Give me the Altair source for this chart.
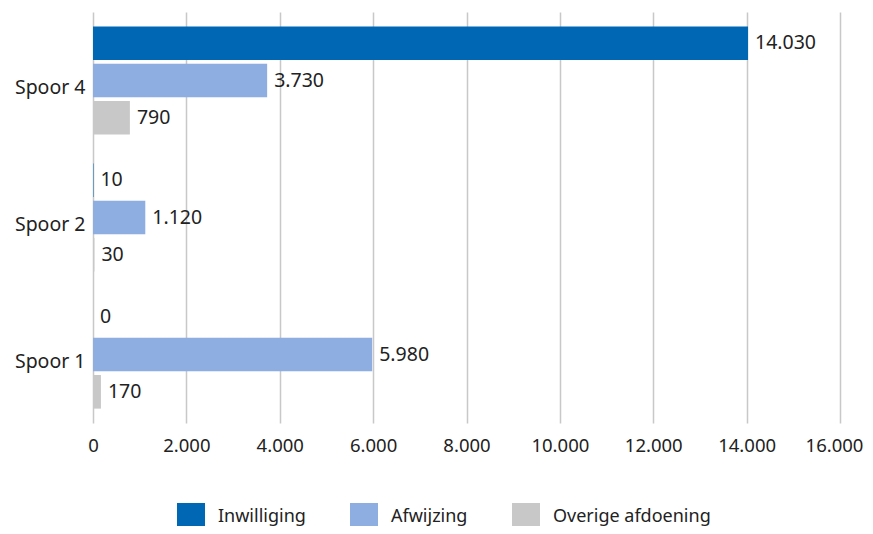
import altair as alt
import pandas as pd

categories = ["Spoor 4", "Spoor 2", "Spoor 1"]
series = ["Inwilliging", "Afwijzing", "Overige afdoening"]
inwilliging = [14030, 10, 0]
afwijzing = [3730, 1120, 5980]
overige = [790, 30, 170]
colors = ["#0067b4", "#8eade0", "#c8c8c8"]

rows = []
for i, c in enumerate(categories):
    for s, vals in zip(series, [inwilliging, afwijzing, overige]):
        rows.append({"Spoor": c, "Soort": s, "Aantal": vals[i]})
df = pd.DataFrame(rows)

FONT = "Noto Sans"
TXT = "#222222"

base = alt.Chart(df).encode(
    y=alt.Y("Spoor:N", sort=categories, title=None,
            scale=alt.Scale(paddingInner=0.21, paddingOuter=0.105),
            axis=alt.Axis(labelFontSize=19.5, labelPadding=8, ticks=False, domain=False,
                          labelOffset=7, labelColor=TXT, labelFont=FONT)),
    yOffset=alt.YOffset("Soort:N", sort=series,
                        scale=alt.Scale(paddingInner=0.1, paddingOuter=0)),
)

bars = base.mark_bar().encode(
    x=alt.X("Aantal:Q", title=None,
            scale=alt.Scale(domain=[0, 16000], nice=False),
            axis=alt.Axis(values=list(range(0, 16001, 2000)), format=",d",
                          labelFontSize=18.5, labelPadding=13, ticks=False, domain=False,
                          labelFlush=False, labelOverlap=False,
                          labelOffset={"condition": {"test": "datum.value == 16000", "value": -6},
                                       "value": 0},
                          grid=True, gridColor="#c8c8c8", gridWidth=1.5,
                          labelColor=TXT, labelFont=FONT)),
    color=alt.Color("Soort:N", sort=series,
                    scale=alt.Scale(domain=series, range=colors),
                    legend=alt.Legend(title=None, orient="none", direction="horizontal",
                                      legendX=84, legendY=491, padding=0,
                                      symbolType="square", symbolSize=784,
                                      symbolStrokeWidth=0, labelFontSize=18,
                                      labelFont=FONT, labelColor=TXT,
                                      labelOffset=13, columnPadding=44)),
)

labels = base.mark_text(align="left", baseline="middle", dx=7, fontSize=19.5,
                        font=FONT, color=TXT).encode(
    x=alt.X("Aantal:Q"),
    text=alt.Text("Aantal:Q", format=",d"),
)

chart = (bars + labels).properties(
    width=747, height=411,
    autosize=alt.AutoSizeParams(type="none"),
    padding={"left": 85, "top": 4, "right": 25, "bottom": 103},
).configure(
    locale={"number": {"decimal": ",", "thousands": ".", "grouping": [3],
                       "currency": ["€", ""]}}
).configure_view(stroke=None)

chart.save("out.html", embed_options={"renderer": "svg", "actions": False})
